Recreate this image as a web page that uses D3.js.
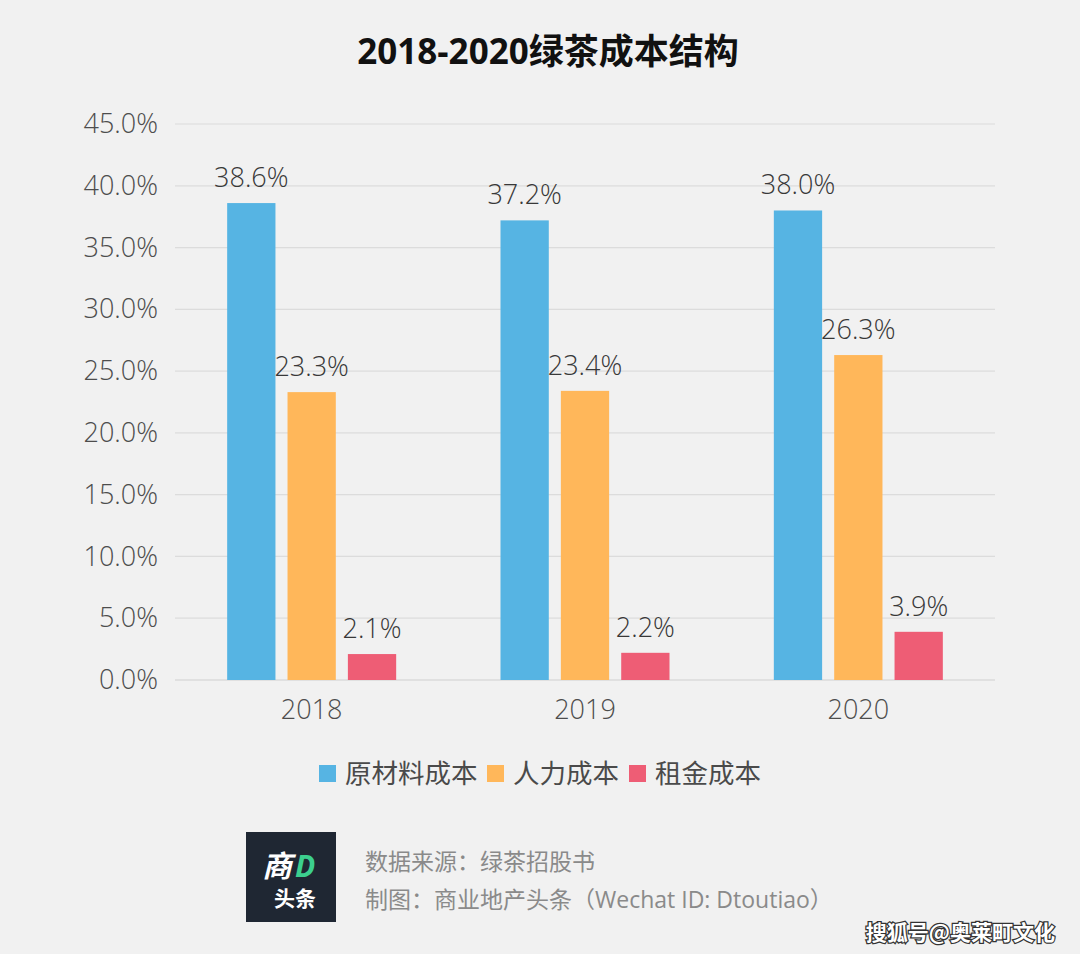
<!DOCTYPE html>
<html>
<head>
<meta charset="utf-8">
<script src="https://cdn.jsdelivr.net/npm/d3@7"></script>
<style>
  body { margin: 0; background: #f1f1f1; }
  svg { display: block; font-family: "Open Sans", "Noto Sans CJK SC", sans-serif; }
</style>
</head>
<body>
<div class="chart"></div>
<script>
// data
let years = ["2018", "2019", "2020"];
let seriesNames = ["原材料成本", "人力成本", "租金成本"];
let rawMaterial = [0.386, 0.372, 0.380];
let labour = [0.233, 0.234, 0.263];
let rent = [0.021, 0.022, 0.039];
let yTicks = [0, 0.05, 0.10, 0.15, 0.20, 0.25, 0.30, 0.35, 0.40, 0.45];
let colors = ["#56b4e3", "#ffb75a", "#ee5d75"];

let width = 1080, height = 954;
let plotLeft = 175, plotRight = 995, plotTop = 124, plotBottom = 680;
let numFont = "\"Open Sans\", \"Noto Sans CJK SC\", sans-serif";

let svg = d3.select(".chart").append("svg")
  .attr("width", width).attr("height", height);

svg.append("rect").attr("width", width).attr("height", height).attr("fill", "#f1f1f1");

// title
svg.append("text")
  .attr("x", 548).attr("y", 64)
  .attr("text-anchor", "middle")
  .attr("font-size", 35).attr("font-weight", "bold")
  .attr("fill", "#111")
  .text("2018-2020绿茶成本结构");

let y = d3.scaleLinear().domain([0, 0.45]).range([plotBottom, plotTop]);
let x0 = d3.scaleBand().domain(years).range([plotLeft, plotRight]);
let x1 = d3.scaleBand().domain(seriesNames).range([-84.5, 84.5]).paddingInner(0.2);

// grid
svg.append("g").selectAll("line").data(yTicks).enter().append("line")
  .attr("x1", plotLeft).attr("x2", plotRight)
  .attr("y1", d => y(d)).attr("y2", d => y(d))
  .attr("stroke", d => d == 0 ? "#cfcfcf" : "#dcdcdc")
  .attr("stroke-width", 1.2);

// y axis labels
let yAxis = svg.append("g")
  .attr("transform", "translate(158,0)")
  .call(d3.axisLeft(y).tickValues(yTicks).tickFormat(d3.format(".1%")).tickSize(0).tickPadding(0));
yAxis.select(".domain").remove();
yAxis.selectAll("text")
  .attr("font-size", 27).attr("font-weight", 300).attr("fill", "#4d4d4d")
  .attr("font-family", numFont);

// x axis labels
let xAxis = svg.append("g")
  .attr("transform", "translate(0," + plotBottom + ")")
  .call(d3.axisBottom(x0).tickSize(0).tickPadding(20));
xAxis.select(".domain").remove();
xAxis.selectAll("text")
  .attr("font-size", 27).attr("font-weight", 300).attr("fill", "#4d4d4d")
  .attr("font-family", numFont);

let allSeries = [rawMaterial, labour, rent];
let rows = [];
years.forEach((yr, i) => {
  seriesNames.forEach((s, j) => {
    rows.push({ year: yr, name: s, value: allSeries[j][i], color: colors[j] });
  });
});

let bar = svg.append("g").selectAll("g").data(rows).enter().append("g")
  .attr("transform", d => "translate(" + (x0(d.year) + x0.bandwidth() / 2) + ",0)");

bar.append("rect")
  .attr("x", d => x1(d.name))
  .attr("y", d => y(d.value))
  .attr("width", x1.bandwidth())
  .attr("height", d => plotBottom - y(d.value))
  .attr("fill", d => d.color);

bar.append("text")
  .attr("x", d => x1(d.name) + x1.bandwidth() / 2)
  .attr("y", d => y(d.value) - 16)
  .attr("text-anchor", "middle")
  .attr("font-size", 27).attr("font-weight", 300).attr("fill", "#383838")
  .text(d => d3.format(".1%")(d.value));

// legend
let legendX = [319, 487, 629];
let legend = svg.append("g").selectAll("g").data(seriesNames).enter().append("g")
  .attr("transform", (d, i) => "translate(" + legendX[i] + ",765)");
legend.append("rect").attr("width", 17).attr("height", 17).attr("fill", (d, i) => colors[i]);
legend.append("text")
  .attr("x", 26).attr("y", 18)
  .attr("font-size", 26.5).attr("fill", "#4a4a4a")
  .text(d => d);

// logo block
let logo = svg.append("g").attr("transform", "translate(246,832)");
logo.append("rect").attr("width", 90).attr("height", 90).attr("fill", "#1f2733");
logo.append("text")
  .attr("x", 16).attr("y", 45)
  .attr("font-size", 30).attr("font-weight", "bold").attr("font-style", "italic")
  .attr("fill", "#fff").attr("font-family", "\"Noto Sans CJK SC\", sans-serif")
  .text("商");
logo.append("text")
  .attr("x", 49).attr("y", 45)
  .attr("font-size", 30).attr("font-weight", "bold").attr("font-style", "italic")
  .attr("fill", "#3ccf8e").attr("font-family", "\"Open Sans\", sans-serif")
  .text("D");
logo.append("text")
  .attr("x", 28).attr("y", 74)
  .attr("font-size", 21).attr("font-weight", "bold")
  .attr("fill", "#fff").attr("font-family", "\"Noto Sans CJK SC\", sans-serif")
  .text("头条");

// source
svg.append("text")
  .attr("x", 365).attr("y", 870)
  .attr("font-size", 23).attr("fill", "#8a8a8a")
  .text("数据来源：绿茶招股书");
svg.append("text")
  .attr("x", 365).attr("y", 908)
  .attr("font-size", 23).attr("fill", "#8a8a8a")
  .text("制图：商业地产头条（Wechat ID: Dtoutiao）");

// watermark
svg.append("text")
  .attr("x", 1055).attr("y", 940)
  .attr("text-anchor", "end")
  .attr("font-size", 21).attr("font-weight", "bold")
  .attr("fill", "#fff").attr("stroke", "#333").attr("stroke-width", 2.5)
  .attr("paint-order", "stroke")
  .attr("font-family", "\"Noto Sans CJK SC\", sans-serif")
  .text("搜狐号@奥莱町文化");
</script>
</body>
</html>
